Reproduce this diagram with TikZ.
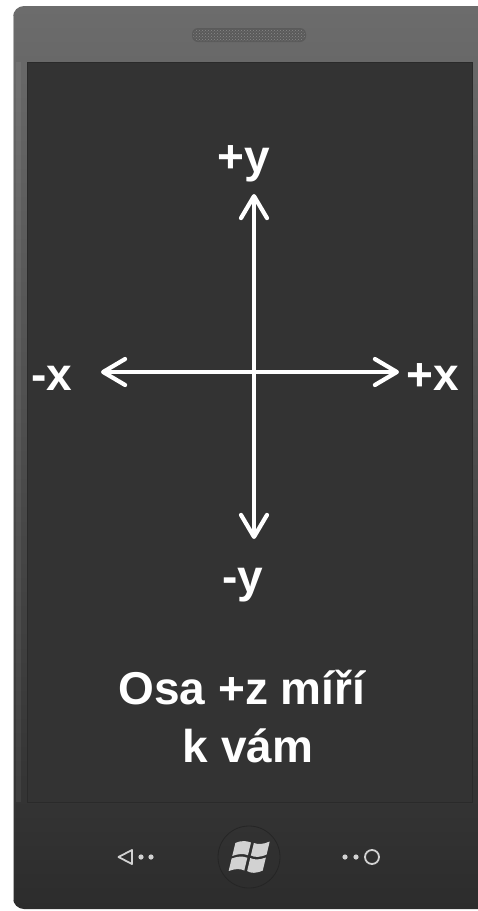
\documentclass[tikz,border=0pt]{standalone}
\usepackage{fontspec}
\setmainfont{Liberation Sans}
\usetikzlibrary{arrows.meta,patterns}
\definecolor{bezeltop}{HTML}{6C6C6C}
\definecolor{bezelmid}{HTML}{4C4C4C}
\definecolor{bezelbot}{HTML}{2C2C2C}
\definecolor{screenbg}{HTML}{333333}
\definecolor{screenedge}{HTML}{2A2A2A}
\definecolor{btn}{HTML}{D2D2D2}
\definecolor{grille}{HTML}{5A5A5A}
\definecolor{grilledot}{HTML}{8A8A8A}
\definecolor{ringcol}{HTML}{252525}
\tikzset{
  lbl/.style={text=white, font=\fontsize{46}{56}\selectfont\bfseries, inner sep=0pt, anchor=base},
  axis/.style={white, line width=4.2pt, line cap=round,
    {Straight Barb[length=22pt,width=26pt,round]}-{Straight Barb[length=22pt,width=26pt,round]}},
  btnline/.style={draw=btn, line width=1.8pt},
  btnfill/.style={fill=btn},
}
\begin{document}
\begin{tikzpicture}[x=1pt,y=-1pt]
\useasboundingbox (0,0) rectangle (478,911);
\clip (0,0) rectangle (478,911);
\fill[white] (0,0) rectangle (478,911);
% phone body
\path[top color=bezeltop, middle color=bezelmid, bottom color=bezelbot, rounded corners=11pt]
  (13,6) rectangle (495,909);
\draw[color=gray!60, line width=1pt] (13.5,16) -- (13.5,900);
\fill[white, opacity=0.06] (16,62) rectangle (21,802);
% speaker grille
\path[fill=grille, rounded corners=6pt] (192,28) rectangle (306,42);
\path[pattern=crosshatch dots, pattern color=grilledot, rounded corners=6pt] (193,29) rectangle (305,41);
% screen
\path[fill=screenbg, draw=screenedge, line width=0.8pt] (27,62) rectangle (472,802);
% axes
\coordinate (L) at (101,372);
\coordinate (R) at (399,372);
\coordinate (T) at (254,194);
\coordinate (B) at (254,539);
\draw[axis] (L) -- (R);
\draw[axis] (B) -- (T);
% labels
\node[lbl] (py) at (244,172) {+y};
\node[lbl] (my) at (243,592) {-y};
\node[lbl] (mx) at (52,390) {-x};
\node[lbl] (px) at (433,390) {+x};
\node[lbl] (t1) at (242,704) {Osa +z míří};
\node[lbl] (t2) at (248,762) {k vám};
% back button
\draw[btnline, line join=round] (132,850) -- (118.5,857) -- (132,864) -- cycle;
\fill[btn] (141,857) circle (2.6) (151,857) circle (2.6);
% windows button
\draw[draw=ringcol, line width=0.8pt] (249,857) circle (31);
\begin{scope}[shift={(249,857)}, xslant=0.24]
  \fill[btn] (-17,-14) .. controls (-11,-17) and (-6,-16) .. (-1.5,-14.5)
             -- (-1.5,-1.8) .. controls (-6,-3.5) and (-11,-3.5) .. (-17,-1) -- cycle;
  \fill[btn] (1.5,-14) .. controls (6,-12.5) and (11,-12.5) .. (17,-15.5)
             -- (17,-2.5) .. controls (11,0.5) and (6,0.5) .. (1.5,-1.5) -- cycle;
  \fill[btn] (-17,1.5) .. controls (-11,-1) and (-6,-1) .. (-1.5,0.8)
             -- (-1.5,13.5) .. controls (-6,11.5) and (-11,11.5) .. (-17,14) -- cycle;
  \fill[btn] (1.5,1) .. controls (6,3) and (11,3) .. (17,0.5)
             -- (17,13.5) .. controls (11,16.5) and (6,16.5) .. (1.5,14) -- cycle;
\end{scope}
% search button
\fill[btn] (345,857) circle (2.6) (356,857) circle (2.6);
\draw[btnline] (372,857) circle (7);
\end{tikzpicture}
\end{document}
